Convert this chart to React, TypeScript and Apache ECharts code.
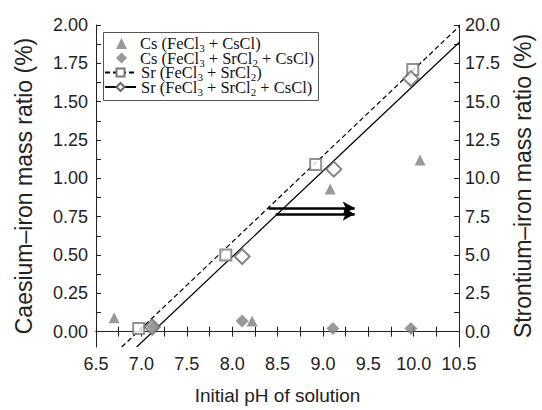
import React, { useEffect, useRef } from "react";
import * as echarts from "echarts";

// ---- data ----
const csFeCsX = [6.7, 8.22, 9.08, 10.07];
const csFeCsY = [0.09, 0.07, 0.93, 1.12];
const csAllX = [7.13, 8.11, 9.11, 9.97];
const csAllY = [0.03, 0.07, 0.02, 0.02];
const srFeSrX = [6.97, 7.93, 8.92, 9.99];
const srFeSrY = [0.2, 5.0, 10.9, 17.1];
const srAllX = [7.12, 8.11, 9.12, 9.97];
const srAllY = [0.3, 4.9, 10.6, 16.5];
const fitFeSrX = [6.784, 10.5];
const fitFeSrY = [-1, 19.9];
const fitAllX = [6.948, 10.5];
const fitAllY = [-1, 18.86];
const arrowUpperX = [8.4, 9.35];
const arrowUpperY = [0.806, 0.806];
const arrowLowerX = [8.48, 9.35];
const arrowLowerY = [0.767, 0.767];

const leftLabels = [0, 0.25, 0.5, 0.75, 1.0, 1.25, 1.5, 1.75, 2.0];
const leftTicks = [0, 0.125, 0.25, 0.375, 0.5, 0.625, 0.75, 0.875, 1.0, 1.125, 1.25, 1.375, 1.5, 1.625, 1.75, 1.875, 2.0];
const rightLabels = [0, 2.5, 5, 7.5, 10, 12.5, 15, 17.5, 20];
const rightTicks = [0, 1.25, 2.5, 3.75, 5, 6.25, 7.5, 8.75, 10, 11.25, 12.5, 13.75, 15, 16.25, 17.5, 18.75, 20];

const names = [
  "Cs (FeCl3 + CsCl)",
  "Cs (FeCl3 + SrCl2 + CsCl)",
  "Sr (FeCl3 + SrCl2)",
  "Sr (FeCl3 + SrCl2 + CsCl)",
];
const richNames: Record<string, string> = {
  [names[0]]: "{t|Cs (FeCl}{s|3}{t| + CsCl)}",
  [names[1]]: "{t|Cs (FeCl}{s|3}{t| + SrCl}{s|2}{t| + CsCl)}",
  [names[2]]: "{t|Sr (FeCl}{s|3}{t| + SrCl}{s|2}{t|)}",
  [names[3]]: "{t|Sr (FeCl}{s|3}{t| + SrCl}{s|2}{t| + CsCl)}",
};

const zip = (xs: number[], ys: number[]) => xs.map((x, i) => [x, ys[i]]);

const SANS = "'Liberation Sans', Arial, sans-serif";
const SERIF = "'Liberation Serif', 'Times New Roman', serif";
const INK = "#222";
const LEG = "#111";

export default function App() {
  const ref = useRef<HTMLDivElement>(null);
  useEffect(() => {
    if (!ref.current) return;
    const chart = echarts.init(ref.current, undefined, { renderer: "svg" });
    const labelStyle = { color: INK, fontSize: 18, fontFamily: SANS };
    const axisLine = { show: true, lineStyle: { color: INK, width: 1 } };
    const legendText = (gap: number) => ({
      color: LEG,
      fontFamily: SERIF,
      fontSize: 16.5,
      rich: {
        g: { width: gap },
        t: { fontSize: 16.5, fontFamily: SERIF, color: LEG },
        s: { fontSize: 11, fontFamily: SERIF, color: LEG, padding: [9, 0, 0, 0] },
      },
    });
    const rowTops = [35, 49.5, 64, 78.5];
    const mkLegend = (i: number) => {
      const isCs = i < 2;
      return {
        left: isCs ? 116 : 104,
        top: rowTops[i],
        orient: "vertical",
        data: [names[i]],
        itemWidth: isCs ? 11 : 31,
        itemHeight: isCs ? 11 : 10,
        itemGap: 0,
        padding: 0,
        formatter: (n: string) => (isCs ? "{g|}" : "") + (richNames[n] || n),
        textStyle: legendText(isCs ? 8 : 0),
      };
    };
    chart.setOption({
      animation: false,
      backgroundColor: "#fff",
      grid: { left: 96, right: 80, top: 25, bottom: 62 },
      graphic: [
        {
          type: "rect",
          shape: { x: 103.5, y: 32.5, width: 215, height: 68 },
          style: { fill: "none", stroke: "#555", lineWidth: 1 },
          z: 100,
        },
      ],
      legend: [mkLegend(0), mkLegend(1), mkLegend(2), mkLegend(3)],
      xAxis: [
        {
          type: "value",
          min: 6.5,
          max: 10.5,
          interval: 0.5,
          position: "bottom",
          axisLine,
          axisTick: { inside: true, length: 5, lineStyle: { color: INK } },
          minorTick: { show: true, splitNumber: 2, length: 5, lineStyle: { color: INK } },
          axisLabel: { ...labelStyle, margin: 8, formatter: (v: number) => v.toFixed(1) },
          splitLine: { show: false },
          name: "Initial pH of solution",
          nameLocation: "middle",
          nameGap: 39,
          nameTextStyle: { color: INK, fontSize: 19, fontFamily: SANS },
        },
        {
          type: "value",
          min: 6.5,
          max: 10.5,
          interval: 0.5,
          position: "top",
          axisLine,
          axisTick: { inside: true, length: 5, lineStyle: { color: INK } },
          minorTick: { show: true, splitNumber: 2, length: 5, lineStyle: { color: INK } },
          axisLabel: { show: false },
          splitLine: { show: false },
        },
      ],
      yAxis: [
        {
          type: "value",
          min: -0.1,
          max: 2.0,
          position: "left",
          axisLine,
          axisTick: { inside: true, length: 5, customValues: leftTicks, lineStyle: { color: INK } },
          axisLabel: { ...labelStyle, margin: 8, customValues: leftLabels, formatter: (v: number) => v.toFixed(2) },
          splitLine: { show: false },
          name: "Caesium\u2013iron mass ratio (%)",
          nameLocation: "middle",
          nameGap: 61,
          nameRotate: 90,
          nameTextStyle: { color: INK, fontSize: 23, fontFamily: SANS },
        },
        {
          type: "value",
          min: -1,
          max: 20,
          position: "right",
          axisLine,
          axisTick: { inside: true, length: 5, customValues: rightTicks, lineStyle: { color: INK } },
          axisLabel: { ...labelStyle, margin: 6, customValues: rightLabels, formatter: (v: number) => v.toFixed(1) },
          splitLine: { show: false },
          name: "Strontium\u2013iron mass ratio (%)",
          nameLocation: "middle",
          nameGap: 45,
          nameRotate: 90,
          nameTextStyle: { color: INK, fontSize: 23, fontFamily: SANS },
        },
      ],
      series: [
        {
          name: "zero",
          type: "line",
          data: [],
          xAxisIndex: 0,
          yAxisIndex: 0,
          markLine: {
            silent: true,
            symbol: ["none", "none"],
            label: { show: false },
            lineStyle: { color: INK, width: 1, type: "solid" },
            data: [{ yAxis: 0 }],
          },
        },
        {
          name: "arrows",
          type: "line",
          data: [],
          xAxisIndex: 0,
          yAxisIndex: 0,
          markLine: {
            silent: true,
            symbol: ["none", "arrow"],
            symbolSize: [10, 12],
            label: { show: false },
            lineStyle: { color: "#000", width: 2.5, type: "solid" },
            data: [
              [
                { coord: [arrowUpperX[0], arrowUpperY[0]] },
                { coord: [arrowUpperX[1], arrowUpperY[1]] },
              ],
              [
                { coord: [arrowLowerX[0], arrowLowerY[0]] },
                { coord: [arrowLowerX[1], arrowLowerY[1]] },
              ],
            ],
          },
        },
        {
          name: names[2],
          type: "line",
          yAxisIndex: 1,
          data: zip(fitFeSrX, fitFeSrY),
          symbol: "emptyRect",
          showSymbol: false,
          lineStyle: { color: "#000", width: 1.2, type: [5, 3] },
          itemStyle: { color: "#777", borderWidth: 1.5 },
        },
        {
          name: names[3],
          type: "line",
          yAxisIndex: 1,
          data: zip(fitAllX, fitAllY),
          symbol: "emptyDiamond",
          showSymbol: false,
          lineStyle: { color: "#000", width: 1.2 },
          itemStyle: { color: "#666", borderWidth: 1.5 },
        },
        {
          name: "srFeSrPts",
          type: "scatter",
          yAxisIndex: 1,
          data: zip(srFeSrX, srFeSrY),
          symbol: "emptyRect",
          symbolSize: 11,
          itemStyle: { color: "#777", borderWidth: 1.5 },
          z: 5,
        },
        {
          name: "srAllPts",
          type: "scatter",
          yAxisIndex: 1,
          data: zip(srAllX, srAllY),
          symbol: "emptyDiamond",
          symbolSize: 15,
          itemStyle: { color: "#666", borderWidth: 1.5 },
          z: 5,
        },
        {
          name: names[0],
          type: "scatter",
          yAxisIndex: 0,
          data: zip(csFeCsX, csFeCsY),
          symbol: "triangle",
          symbolSize: 11,
          itemStyle: { color: "#808080" },
          z: 6,
        },
        {
          name: names[1],
          type: "scatter",
          yAxisIndex: 0,
          data: zip(csAllX, csAllY),
          symbol: "diamond",
          symbolSize: 13,
          itemStyle: { color: "#808080" },
          z: 6,
        },
      ],
    });
    return () => chart.dispose();
  }, []);
  return <div ref={ref} style={{ width: 542, height: 410, position: "absolute", left: 0, top: 0 }} />;
}
